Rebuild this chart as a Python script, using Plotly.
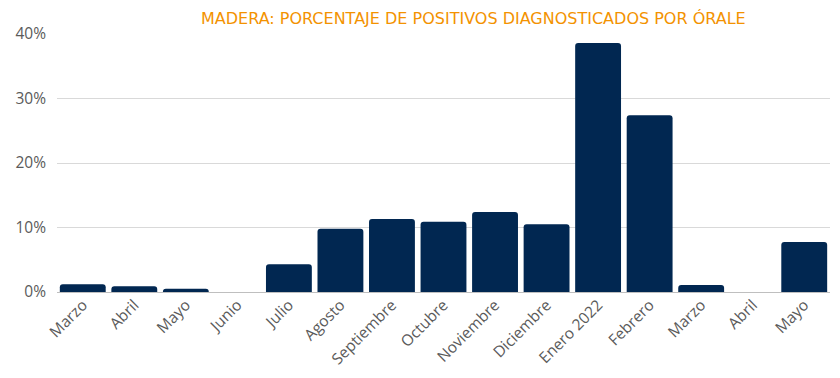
import plotly.graph_objects as go

categories = ["Marzo", "Abril", "Mayo", "Junio", "Julio", "Agosto", "Septiembre",
              "Octubre", "Noviembre", "Diciembre", "Enero 2022", "Febrero",
              "Marzo", "Abril", "Mayo"]
values = [1.2, 0.9, 0.5, 0.0, 4.3, 9.8, 11.3, 10.9, 12.4, 10.5, 38.6, 27.4, 1.1, 0.0, 7.75]
y_ticks = [0, 10, 20, 30, 40]
y_tick_labels = ["0%", "10%", "20%", "30%", "40%"]
title = "MADERA: PORCENTAJE DE POSITIVOS DIAGNOSTICADOS POR ÓRALE"

xpos = list(range(len(categories)))

fig = go.Figure(go.Bar(
    x=xpos, y=values,
    marker=dict(color="#012751", cornerradius=3, line=dict(width=0)),
    width=0.89,
))

fig.update_layout(
    width=840, height=378,
    margin=dict(l=49, r=18, t=26, b=94),
    paper_bgcolor="white", plot_bgcolor="white",
    showlegend=False,
    title=dict(text=title, x=0.554, xanchor="center", y=0.972, yanchor="middle",
               font=dict(family="DejaVu Sans", size=16, color="#F39200")),
    font=dict(family="Open Sans", color="#5a5a5a"),
)
fig.update_xaxes(
    tickvals=xpos, ticktext=categories, tickangle=-45,
    tickfont=dict(family="Open Sans", size=15.5, color="#5a5a5a"),
    range=[-0.5, len(categories) - 0.5], automargin=False,
    showgrid=False, zeroline=False, showline=False, ticks="",
)
fig.update_yaxes(
    range=[0, 40], tickvals=y_ticks, ticktext=y_tick_labels, automargin=False,
    tickfont=dict(family="Open Sans", size=15.5, color="#5a5a5a"),
    showgrid=True, gridcolor="#D9D9D9", gridwidth=1,
    zeroline=True, zerolinecolor="#BFBFBF", zerolinewidth=1,
    showline=False, ticks="", ticklabelstandoff=10,
)

fig.write_html("out.html")
